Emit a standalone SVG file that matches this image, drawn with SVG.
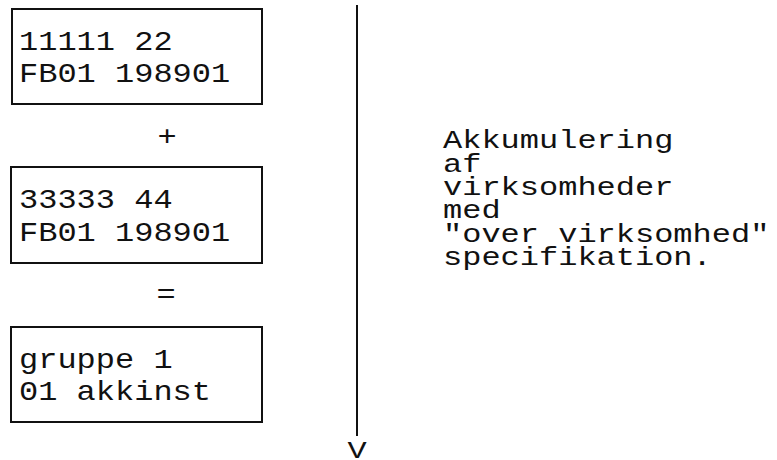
<svg xmlns="http://www.w3.org/2000/svg" width="777" height="460" viewBox="0 0 777 460">
  <style>
    .box { fill: #ffffff; stroke: #111111; stroke-width: 2; }
    .t { font-family: "Liberation Mono", "Courier New", monospace; font-size: 32px; fill: #111111; }
    .flow { stroke: #111111; stroke-width: 2; fill: none; }
  </style>
  <rect width="777" height="460" fill="#ffffff"/>

  <!-- text is squeezed vertically to give the low x-height of a typewriter face -->
  <g id="record-1">
    <rect class="box" x="12" y="9" width="250" height="95"/>
    <text class="t" transform="translate(19,50) scale(1,0.84)">11111 22</text>
    <text class="t" transform="translate(19,82) scale(1,0.84)">FB01 198901</text>
  </g>

  <g id="op-plus">
    <text class="t" text-anchor="middle" transform="translate(167,145) scale(1,0.84)">+</text>
  </g>

  <g id="record-2">
    <rect class="box" x="11" y="167" width="251" height="96"/>
    <text class="t" transform="translate(19,208) scale(1,0.84)">33333 44</text>
    <text class="t" transform="translate(19,241) scale(1,0.84)">FB01 198901</text>
  </g>

  <g id="op-equals">
    <text class="t" text-anchor="middle" transform="translate(166,303) scale(1,0.84)">=</text>
  </g>

  <g id="result">
    <rect class="box" x="11" y="327" width="251" height="95"/>
    <text class="t" transform="translate(19,368) scale(1,0.84)">gruppe 1</text>
    <text class="t" transform="translate(19,400) scale(1,0.84)">01 akkinst</text>
  </g>

  <g id="connectors">
    <line class="flow" x1="357" y1="5" x2="357" y2="436"/>
    <text class="t" text-anchor="middle" transform="translate(357,458) scale(1,0.76)">V</text>
  </g>

  <g id="note">
    <text class="t" transform="translate(443,148) scale(1,0.8)">Akkumulering</text>
    <text class="t" transform="translate(443,172) scale(1,0.8)">af</text>
    <text class="t" transform="translate(443,195) scale(1,0.8)">virksomheder</text>
    <text class="t" transform="translate(443,218) scale(1,0.8)">med</text>
    <text class="t" transform="translate(443,242) scale(1,0.8)">"over virksomhed"</text>
    <text class="t" transform="translate(443,265) scale(1,0.8)">specifikation.</text>
  </g>
</svg>
